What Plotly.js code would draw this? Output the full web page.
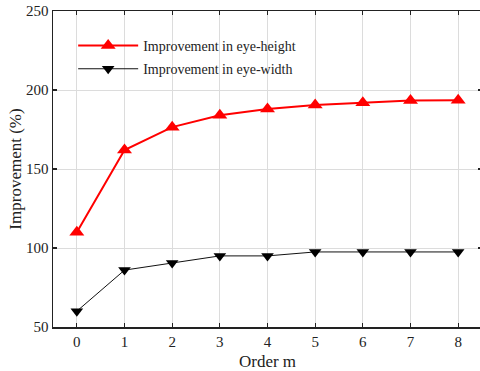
<!DOCTYPE html>
<html>
<head>
<meta charset="utf-8">
<script src="https://cdn.plot.ly/plotly-3.0.1.min.js"></script>
<style>
  html, body { margin: 0; padding: 0; overflow: hidden; background: #fff; }
  #chart { width: 484px; height: 371px; }
</style>
</head>
<body>
<div id="chart"></div>
<script>
// Improvement of the eye diagram versus the order m
const orders = [0, 1, 2, 3, 4, 5, 6, 7, 8];
const eyeHeight = [110, 162, 176.5, 184, 188, 190.5, 192, 193.3, 193.5];
const eyeWidth = [60, 86, 90.5, 95, 95, 97.5, 97.5, 97.5, 97.5];
const xTicks = [0, 1, 2, 3, 4, 5, 6, 7, 8];
const yTicks = [50, 100, 150, 200, 250];

const serif = 'Liberation Serif';

const traces = [
  {
    x: orders, y: eyeHeight, type: 'scatter', mode: 'lines+markers',
    name: 'Improvement in eye-height', legendgroup: 'h',
    line: { color: '#ff0000', width: 2 },
    marker: { symbol: 'triangle-up', size: 13, color: '#ff0000' }
  },
  {
    x: orders, y: eyeWidth, type: 'scatter', mode: 'lines+markers',
    name: 'Improvement in eye-width', legendgroup: 'w',
    line: { color: '#111111', width: 1 },
    marker: { symbol: 'triangle-down', size: 11, color: '#000000' }
  }
];

const axisCommon = {
  showline: true, linecolor: '#222', linewidth: 1.5, mirror: 'ticks',
  ticks: 'inside', ticklen: 4, tickcolor: '#222', tickwidth: 1.2,
  showgrid: true, gridcolor: '#dcdcdc', gridwidth: 1, zeroline: false,
  tickfont: { family: serif, size: 15, color: '#222' }
};

const layout = {
  width: 484, height: 371,
  margin: { l: 53, r: 2, t: 11, b: 44 },
  paper_bgcolor: '#fff', plot_bgcolor: '#fff',
  font: { family: serif },
  showlegend: true,
  legend: {
    x: 0.047, y: 0.94, xanchor: 'left', yanchor: 'top',
    bgcolor: 'rgba(0,0,0,0)', itemwidth: 60, tracegroupgap: 2,
    font: { family: serif, size: 14, color: '#222' }
  },
  xaxis: Object.assign({}, axisCommon, {
    range: [-0.5, 8.5], tickvals: xTicks, ticktext: xTicks.map(String),
    title: { text: 'Order m', font: { family: serif, size: 17, color: '#222' }, standoff: 6 }
  }),
  yaxis: Object.assign({}, axisCommon, {
    range: [50, 250], tickvals: yTicks, ticktext: yTicks.map(String),
    title: { text: 'Improvement (%)', font: { family: serif, size: 17, color: '#222' }, standoff: 0 }
  })
};

Plotly.newPlot('chart', traces, layout, { displayModeBar: false, staticPlot: true });
</script>
</body>
</html>
